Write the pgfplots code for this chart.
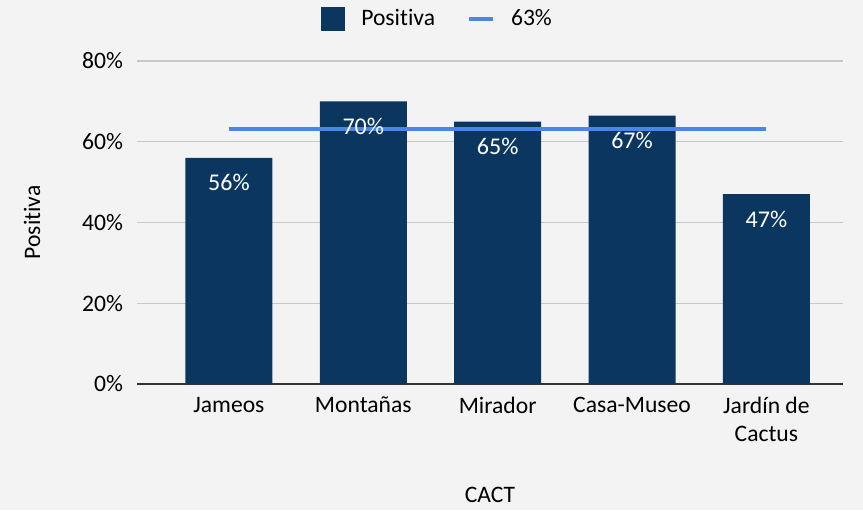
\documentclass[border=0pt]{standalone}
\usepackage{fontspec}
\setmainfont{Carlito}[Ligatures={NoCommon}]
\usepackage{pgfplots}
\pgfplotsset{compat=1.18}

\definecolor{bg}{HTML}{F3F3F3}
\definecolor{navy}{HTML}{0A3660}
\definecolor{avg}{HTML}{4A86E8}
\definecolor{gridc}{HTML}{C8C8C8}

\begin{document}
\begin{tikzpicture}[font=\fontsize{11.8}{14}\selectfont]
\fill[bg] (-68.5pt,-63pt) rectangle (363pt,192pt);
\useasboundingbox (-68.5pt,-63pt) rectangle (363pt,192pt);
\begin{axis}[
  at={(0,0)}, anchor=south west,
  scale only axis, width=353pt, height=161.5pt,
  xmin=-0.684, xmax=4.57, ymin=0, ymax=80,
  ytick={0,20,40,60,80},
  yticklabel={\pgfmathprintnumber{\tick}\%},
  /pgf/number format/assume math mode=true,
  xtick={0,1,2,3,4},
  xticklabels={Jameos,Montañas,Mirador,Casa-Museo,Jardín de\\Cactus},
  xticklabel style={align=center, yshift=-3pt},
  yticklabel style={xshift=-3.5pt},
  major tick length=0pt,
  axis x line*=bottom, axis y line*=left,
  x axis line style={draw=black!80, line width=0.8pt, -},
  y axis line style={draw=none},
  ymajorgrids, grid style={gridc, line width=0.6pt},
  xlabel={CACT}, ylabel={Positiva},
  xlabel style={yshift=-16pt},
  ylabel style={yshift=14pt},
  every node near coord/.style={anchor=center, yshift=-12.5pt, text=white, font=\fontsize{12}{14}\selectfont},
  legend style={draw=none, fill=none, at={(0.252,1.13)}, anchor=west,
    legend columns=2, font=\fontsize{11.8}{14}\selectfont,
    /tikz/every odd column/.append style={column sep=6pt},
    /tikz/every even column/.append style={column sep=14pt}},
]
\addplot[ybar, bar width=43.5pt, bar shift=0pt, draw=none, fill=navy,
  legend image code/.code={\fill[navy] (0pt,-6pt) rectangle (12pt,6pt);}]
  coordinates {(0,56) (1,70) (2,65) (3,66.5) (4,47)};
\addlegendentry{Positiva}
\addplot[avg, line width=2pt, mark=none,
  legend image code/.code={\draw[avg, line width=2pt] (0pt,0pt) -- (12pt,0pt);}]
  coordinates {(0,63.2) (4,63.2)};
\addlegendentry{63\%}
\addplot[draw=none, mark=none, forget plot, nodes near coords, point meta=explicit symbolic]
  coordinates {(0,56) [56\%] (1,70) [70\%] (2,65) [65\%] (3,66.5) [67\%] (4,47) [47\%]};
\end{axis}
\end{tikzpicture}
\end{document}
